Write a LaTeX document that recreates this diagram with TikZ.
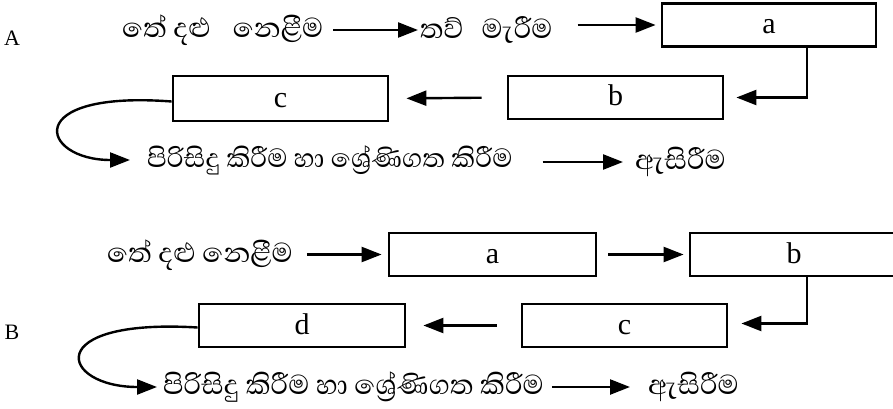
\documentclass[tikz,border=0pt]{standalone}
\usepackage{fontspec}
\setmainfont{Liberation Serif}
\newfontfamily\sinfont[Script=Sinhala]{Abhaya Libre}
\usetikzlibrary{arrows.meta}
\tikzset{
  boxnode/.style={draw, line width=2.8pt, minimum height=43pt, inner sep=0pt, text height=17pt, text depth=0pt, font=\fontsize{30}{30}\selectfont},
  sintext/.style={inner sep=0pt, anchor=west, font=\sinfont\fontsize{35}{35}\selectfont},
  lbl/.style={inner sep=0pt, font=\fontsize{22}{22}\selectfont},
  arr/.style={line width=2.4pt, -{Triangle[length=20pt,width=15pt]}},
}
\begin{document}
\begin{tikzpicture}[x=1pt,y=-1pt]
\useasboundingbox (0,0) rectangle (893,409);
\clip (0,0) rectangle (893,409);
% ---------- A ----------
\node[lbl] (labA) at (12,38) {A};
\node[sintext] (t1) at (122,30) {තේ දළු\hspace{22pt}නෙළීම};
\node[sintext] (t2) at (420,30) {තව්\hspace{18pt}මැරීම};
\node[boxnode, minimum width=214pt] (a1) at (769,25) {a};
\node[boxnode, minimum width=215pt] (b1) at (615.5,97.5) {b};
\node[boxnode, minimum width=215pt, minimum height=45pt] (c1) at (280.5,98.5) {c};
\node[sintext, font=\sinfont\fontsize{33.6}{34}\selectfont] (p1) at (147,160) {පිරිසිදු කිරීම හා ශ්‍රේණිගත කිරීම};
\node[sintext] (p2) at (635,162) {ඇසිරීම};
\draw[arr, shorten <=10pt, shorten >=2pt] (t1.east) -- (t2.west);
\draw[arr, shorten <=25pt, shorten >=5pt] (t2.east |- a1.west) -- (a1.west);
\draw[arr, shorten >=12pt] ([xshift=38pt]a1.south) |- (b1.east);
\draw[arr, shorten <=25pt, shorten >=17pt] (b1.west) -- (c1.east);
\draw[arr, shorten >=17pt] ([yshift=-3pt]c1.west) .. controls (20,90) and (40,160) .. (p1.west);
\draw[arr, shorten <=30pt, shorten >=12pt] (p1.east |- p2.west) -- (p2.west);
% ---------- B ----------
\node[lbl] (labB) at (12,332) {B};
\node[sintext] (q1) at (107,255) {තේ දළු නෙළීම};
\node[boxnode, minimum width=207pt] (a2) at (492.5,254.5) {a};
\node[boxnode, minimum width=208pt] (b2) at (794,254.5) {b};
\node[boxnode, minimum width=205pt] (c2) at (624.5,325.5) {c};
\node[boxnode, minimum width=206pt] (d2) at (302,325.5) {d};
\node[sintext] (r1) at (163,387) {පිරිසිදු කිරීම හා ශ්‍රේණිගත කිරීම};
\node[sintext] (r2) at (648,387) {ඇසිරීම};
\draw[arr, shorten <=14pt, shorten >=6pt] (q1.east |- a2.west) -- (a2.west);
\draw[arr, shorten <=11pt, shorten >=5pt] (a2.east) -- (b2.west);
\draw[arr, shorten >=13pt] ([xshift=13pt]b2.south) |- ([yshift=2pt]c2.east);
\draw[arr, shorten <=24pt, shorten >=17pt] (c2.west) -- (d2.east);
\draw[arr, shorten >=6pt] ([yshift=-2pt]d2.west) .. controls (40,318) and (60,387) .. (r1.west);
\draw[arr, shorten <=8pt, shorten >=18pt] (r1.east) -- (r2.west);
\end{tikzpicture}
\end{document}
